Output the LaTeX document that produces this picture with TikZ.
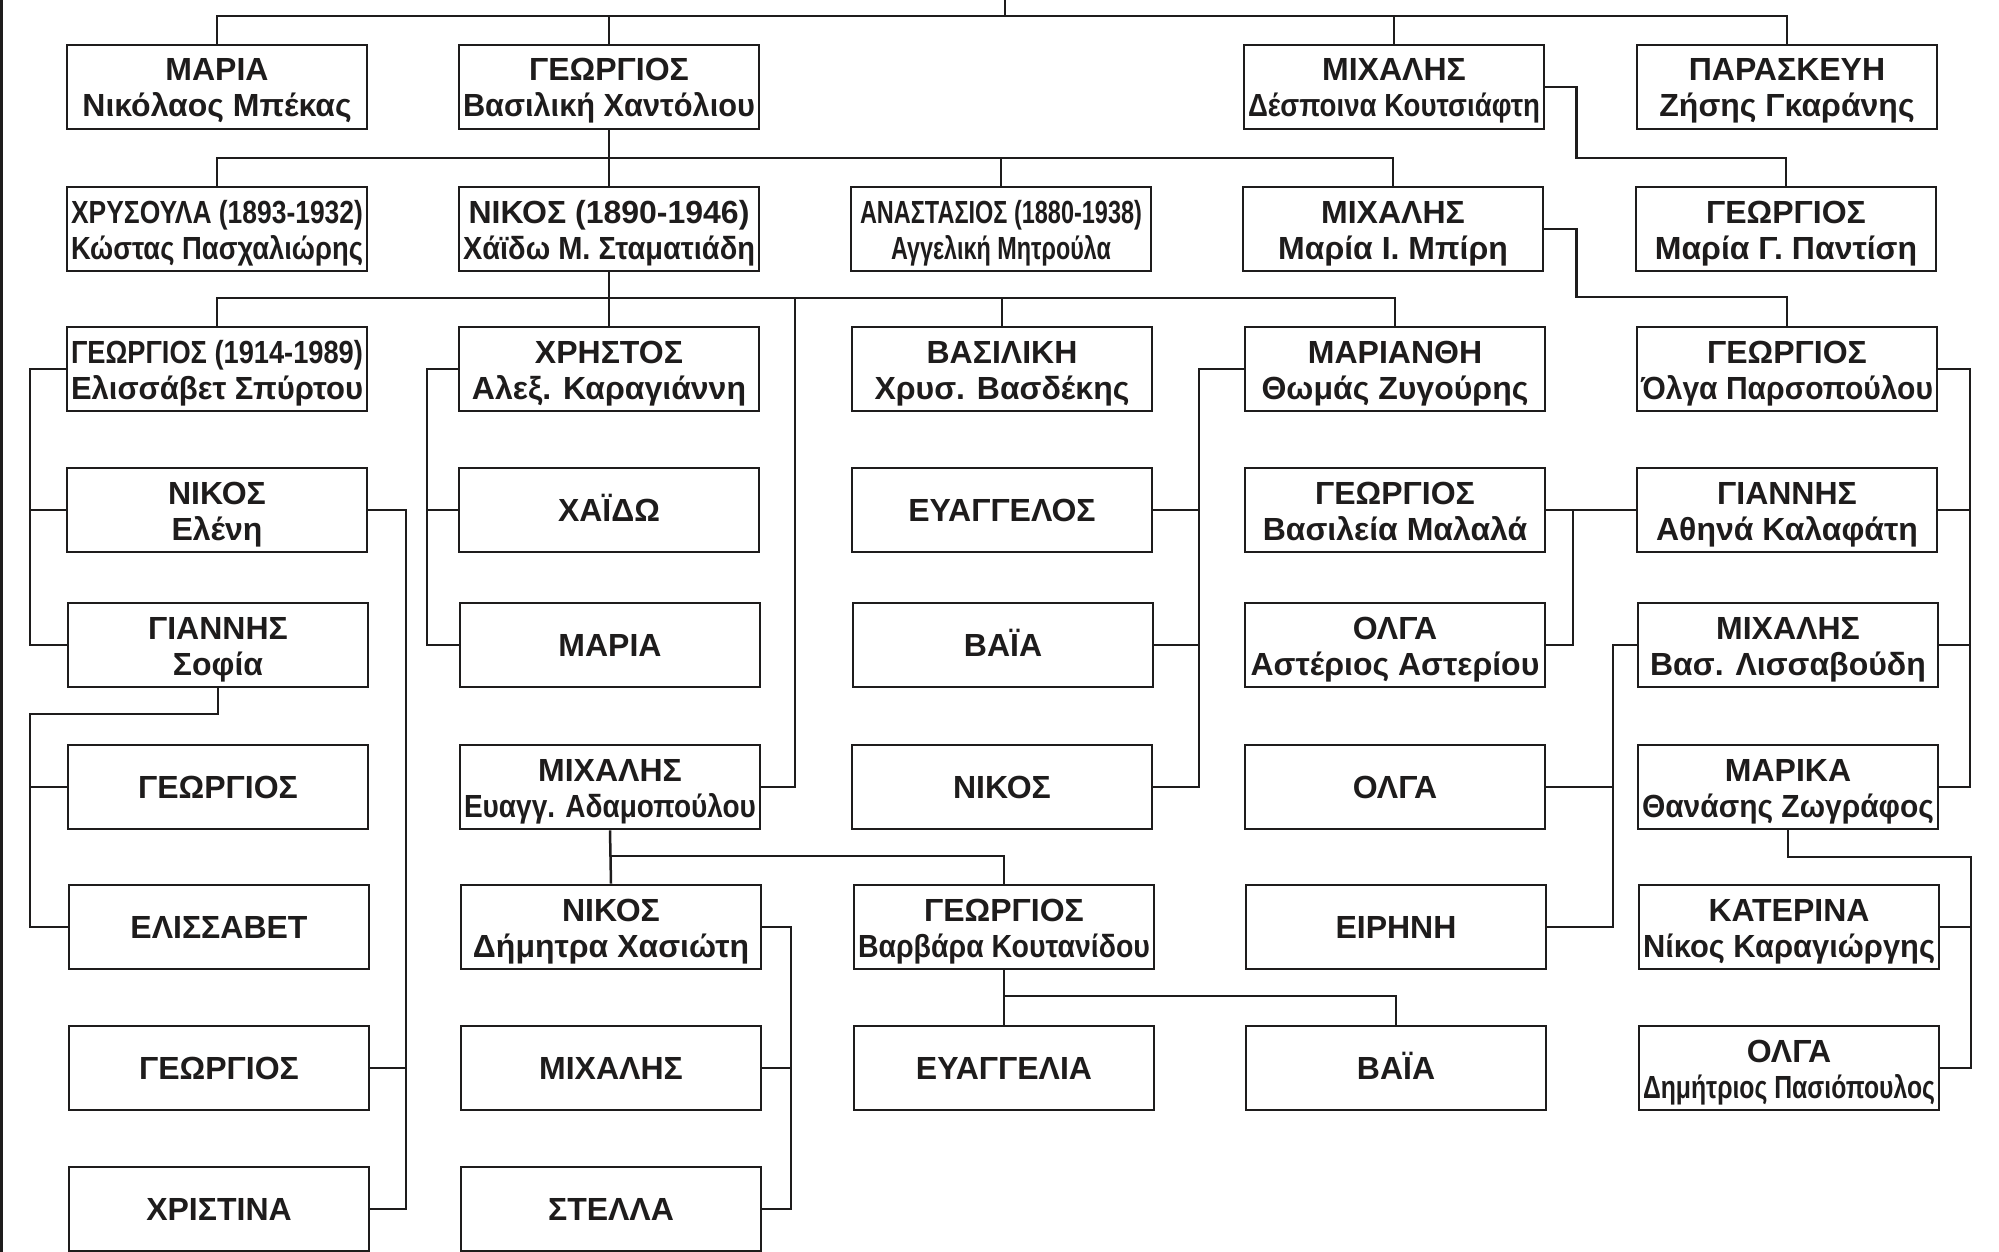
\documentclass[tikz,border=0pt]{standalone}
\usepackage{fontspec}
\usepackage{graphicx}
\setmainfont{Liberation Sans}
\definecolor{ink}{RGB}{30,28,28}
\newsavebox\lnbox
\newdimen\fitd
\newcommand\fitl[2][146pt]{\sbox\lnbox{#2}\fitd=\wd\lnbox\ifdim\fitd>#1\relax\pgfmathsetmacro\fitr{#1/\fitd}\scalebox{\fitr}[1]{\usebox\lnbox}\else\usebox\lnbox\fi}
\newcommand\fitto[2]{\sbox\lnbox{#2}\fitd=\wd\lnbox\pgfmathsetmacro\fitr{#1/\fitd}\scalebox{\fitr}[1]{\usebox\lnbox}}
\tikzset{
  pbox/.style={draw=ink, text=ink, line width=1.3pt, minimum width=150pt, minimum height=42pt,
    inner sep=0pt, align=center, font=\fontsize{16pt}{18pt}\selectfont\bfseries},
  two/.style={pbox, text height=36pt, text depth=6pt},
  one/.style={pbox, text height=11.5pt, text depth=0pt},
  conn/.style={draw=ink, line width=1.25pt}
}
\newcommand\pp[2]{\fitl{#1}\\\fitl{#2}}
\newcommand\po[1]{\fitl{#1}}
\begin{document}
\begin{tikzpicture}[x=0.5pt,y=-0.5pt]
\useasboundingbox (0,0) rectangle (1999,1252);
% row 1
\node[two] (r1c1) at (217,87) {\pp{ΜΑΡΙΑ}{Νικόλαος Μπέκας}};
\node[two] (r1c2) at (609,87) {\pp{ΓΕΩΡΓΙΟΣ}{Βασιλική Χαντόλιου}};
\node[two] (r1c4) at (1394,87) {\pp{ΜΙΧΑΛΗΣ}{Δέσποινα Κουτσιάφτη}};
\node[two] (r1c5) at (1787,87) {\pp{ΠΑΡΑΣΚΕΥΗ}{Ζήσης Γκαράνης}};
% row 2
\node[two] (r2c1) at (217,229) {\pp{ΧΡΥΣΟΥΛΑ (1893-1932)}{Κώστας Πασχαλιώρης}};
\node[two] (r2c2) at (609,229) {\pp{ΝΙΚΟΣ (1890-1946)}{Χάϊδω Μ. Σταματιάδη}};
\node[two] (r2c3) at (1001,229) {\fitto{141pt}{ΑΝΑΣΤΑΣΙΟΣ (1880-1938)}\\\fitto{110pt}{Αγγελική Μητρούλα}};
\node[two] (r2c4) at (1393,229) {\pp{ΜΙΧΑΛΗΣ}{Μαρία Ι. Μπίρη}};
\node[two] (r2c5) at (1786,229) {\pp{ΓΕΩΡΓΙΟΣ}{Μαρία Γ. Παντίση}};
% row 3
\node[two] (r3c1) at (217,369) {\pp{ΓΕΩΡΓΙΟΣ (1914-1989)}{Ελισσάβετ Σπύρτου}};
\node[two] (r3c2) at (609,369) {\pp{ΧΡΗΣΤΟΣ}{Αλεξ. Καραγιάννη}};
\node[two] (r3c3) at (1002,369) {\pp{ΒΑΣΙΛΙΚΗ}{Χρυσ. Βασδέκης}};
\node[two] (r3c4) at (1395,369) {\pp{ΜΑΡΙΑΝΘΗ}{Θωμάς Ζυγούρης}};
\node[two] (r3c5) at (1787,369) {\pp{ΓΕΩΡΓΙΟΣ}{Όλγα Παρσοπούλου}};
% row 4
\node[two] (r4c1) at (217,510) {\pp{ΝΙΚΟΣ}{Ελένη}};
\node[one] (r4c2) at (609,510) {\po{ΧΑΪΔΩ}};
\node[one] (r4c3) at (1002,510) {\po{ΕΥΑΓΓΕΛΟΣ}};
\node[two] (r4c4) at (1395,510) {\pp{ΓΕΩΡΓΙΟΣ}{Βασιλεία Μαλαλά}};
\node[two] (r4c5) at (1787,510) {\pp{ΓΙΑΝΝΗΣ}{Αθηνά Καλαφάτη}};
% row 5
\node[two] (r5c1) at (218,645) {\pp{ΓΙΑΝΝΗΣ}{Σοφία}};
\node[one] (r5c2) at (610,645) {\po{ΜΑΡΙΑ}};
\node[one] (r5c3) at (1003,645) {\po{ΒΑΪΑ}};
\node[two] (r5c4) at (1395,645) {\pp{ΟΛΓΑ}{Αστέριος Αστερίου}};
\node[two] (r5c5) at (1788,645) {\pp{ΜΙΧΑΛΗΣ}{Βασ. Λισσαβούδη}};
% row 6
\node[one] (r6c1) at (218,787) {\po{ΓΕΩΡΓΙΟΣ}};
\node[two] (r6c2) at (610,787) {\pp{ΜΙΧΑΛΗΣ}{Ευαγγ. Αδαμοπούλου}};
\node[one] (r6c3) at (1002,787) {\po{ΝΙΚΟΣ}};
\node[one] (r6c4) at (1395,787) {\po{ΟΛΓΑ}};
\node[two] (r6c5) at (1788,787) {\pp{ΜΑΡΙΚΑ}{Θανάσης Ζωγράφος}};
% row 7
\node[one] (r7c1) at (219,927) {\po{ΕΛΙΣΣΑΒΕΤ}};
\node[two] (r7c2) at (611,927) {\pp{ΝΙΚΟΣ}{Δήμητρα Χασιώτη}};
\node[two] (r7c3) at (1004,927) {\pp{ΓΕΩΡΓΙΟΣ}{Βαρβάρα Κουτανίδου}};
\node[one] (r7c4) at (1396,927) {\po{ΕΙΡΗΝΗ}};
\node[two] (r7c5) at (1789,927) {\pp{ΚΑΤΕΡΙΝΑ}{Νίκος Καραγιώργης}};
% row 8
\node[one] (r8c1) at (219,1068) {\po{ΓΕΩΡΓΙΟΣ}};
\node[one] (r8c2) at (611,1068) {\po{ΜΙΧΑΛΗΣ}};
\node[one] (r8c3) at (1004,1068) {\po{ΕΥΑΓΓΕΛΙΑ}};
\node[one] (r8c4) at (1396,1068) {\po{ΒΑΪΑ}};
\node[two] (r8c5) at (1789,1068) {\pp{ΟΛΓΑ}{Δημήτριος Πασιόπουλος}};
% row 9
\node[one] (r9c1) at (219,1209) {\po{ΧΡΙΣΤΙΝΑ}};
\node[one] (r9c2) at (611,1209) {\po{ΣΤΕΛΛΑ}};

% coordinates
\coordinate (lbt) at (1.5,0);
\coordinate (lbb) at (1.5,1252);
\coordinate (top) at (1005,0);
\coordinate (h0) at (1005,16);
\coordinate (h1) at (0,158);
\coordinate (h2) at (795,298);
\coordinate (m1) at (0,158);
\coordinate (m2) at (0,297);
\coordinate (t1) at (30,0);
\coordinate (t2) at (30,714);
\coordinate (t3) at (406,0);
\coordinate (t4) at (427,0);
\coordinate (t5) at (0,856);
\coordinate (t6) at (791,0);
\coordinate (t7) at (0,996);
\coordinate (t8) at (1199,0);
\coordinate (t9) at (1573,0);
\coordinate (t10) at (1613,0);
\coordinate (t11) at (1970,0);
\coordinate (t12) at (1971,857);

\begin{scope}[conn]
\draw (lbt) -- (lbb);
% top generation
\draw (top) -- (h0);
\draw (r1c1.north) |- (r1c5.north |- h0) -- (r1c5.north);
\draw (r1c2.north) -- (r1c2.north |- h0);
\draw (r1c4.north) -- (r1c4.north |- h0);
% GEORGIOS -> row 2
\draw (r1c2.south) -- (r1c2.south |- h1);
\draw (r2c1.north) |- (r2c4.north |- h1) -- (r2c4.north);
\draw (r2c2.north) -- (r2c2.north |- h1);
\draw (r2c3.north) -- (r2c3.north |- h1);
% MICHALIS row1 -> GEORGIOS row2
\draw (r1c4.east) -- ++(31,0) |- (r2c5.north |- m1) -- (r2c5.north);
% NIKOS -> row 3
\draw (r2c2.south) -- (r2c2.south |- h2);
\draw (r3c1.north) |- (r3c4.north |- h2) -- (r3c4.north);
\draw (r3c2.north) -- (r3c2.north |- h2);
\draw (r3c3.north) -- (r3c3.north |- h2);
\draw (r6c2.east) -| (h2);
% MICHALIS row2 -> GEORGIOS row3
\draw (r2c4.east) -- ++(32,0) |- (r3c5.north |- m2) -- (r3c5.north);
% column 1
\draw (r3c1.west) -| (r3c1.west -| t1) |- (r5c1.west);
\draw (r4c1.west) -- (r4c1.west -| t1);
\draw (r5c1.south) |- (t2) |- (r7c1.west);
\draw (r6c1.west) -- (r6c1.west -| t2);
\draw (r4c1.east) -- (r4c1.east -| t3) |- (r9c1.east);
\draw (r8c1.east) -- (r8c1.east -| t3);
% column 2
\draw (r3c2.west) -- (r3c2.west -| t4) |- (r5c2.west);
\draw (r4c2.west) -- (r4c2.west -| t4);
\draw (r6c2.south) -- (r7c2.north);
\draw (r7c3.north) |- (r6c2.south |- t5);
\draw (r7c2.east) -- (r7c2.east -| t6) |- (r9c2.east);
\draw (r8c2.east) -- (r8c2.east -| t6);
% column 3
\draw (r7c3.south) -- (r8c3.north);
\draw (r8c4.north) |- (r7c3.south |- t7);
\draw (r3c4.west) -- (r3c4.west -| t8) |- (r6c3.east);
\draw (r4c3.east) -- (r4c3.east -| t8);
\draw (r5c3.east) -- (r5c3.east -| t8);
% column 4/5
\draw (r4c5.west) -- (r4c4.east);
\draw (r5c4.east) -| (r4c4.east -| t9);
\draw (r5c5.west) -- (r5c5.west -| t10) |- (r7c4.east);
\draw (r6c4.east) -- (r6c4.east -| t10);
\draw (r3c5.east) -- (r3c5.east -| t11) |- (r6c5.east);
\draw (r4c5.east) -- (r4c5.east -| t11);
\draw (r5c5.east) -- (r5c5.east -| t11);
\draw (r6c5.south) |- (t12) |- (r8c5.east);
\draw (r7c5.east) -- (r7c5.east -| t12);
\end{scope}
\end{tikzpicture}
\end{document}
